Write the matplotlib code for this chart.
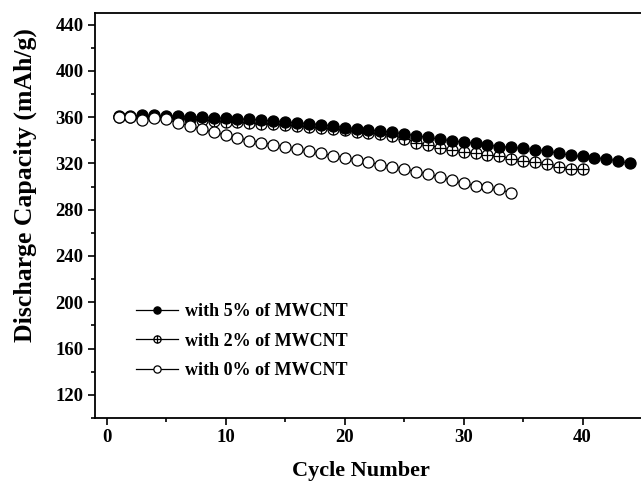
import numpy as np
import matplotlib
matplotlib.use("Agg")
import matplotlib.pyplot as plt
from matplotlib.path import Path

# Discharge capacity (mAh/g) per cycle
cycles_5 = np.arange(1, 45)
cap_5 = [361, 361, 361.5, 361.5, 361, 361, 360.5, 360, 359.5, 359,
         358.5, 358, 357.5, 356.5, 356, 355, 354.5, 353.5, 352.5, 351,
         350, 349, 348, 347, 345.5, 344, 342.5, 341, 339.5, 338.5,
         337.5, 336, 334.5, 334, 333, 332, 330.5, 329, 327, 326,
         325, 324, 322, 320]

cycles_2 = np.arange(1, 41)
cap_2 = [360.5, 360.5, 360, 360, 359.5, 359, 358, 357.5, 357, 356,
         355.5, 355, 354.5, 354, 353, 352.5, 351.5, 350.5, 349.5, 348.5,
         347.5, 346.5, 345.5, 344, 341.5, 338, 336, 333.5, 331.5, 330,
         328.6, 327.2, 326.3, 324, 322.3, 321.4, 319.5, 316.5, 315, 315]

cycles_0 = np.arange(1, 35)
cap_0 = [360.5, 360, 357.5, 359, 358, 355.2, 352.5, 349.5, 347, 344.5,
         342, 339.8, 338, 336.2, 334.2, 332.4, 330.5, 328.6, 326.8, 325,
         323.2, 321, 319, 317, 315.2, 312.8, 310.8, 308.2, 305.5, 302.7,
         300.7, 299.2, 297.5, 294.6]

labels = ["with 5% of MWCNT", "with 2% of MWCNT", "with 0% of MWCNT"]

plt.rcParams['font.family'] = ['Liberation Serif', 'DejaVu Serif']
plt.rcParams['font.weight'] = 'bold'

# circle with a plus inside
oplus = Path.make_compound_path(
    Path.unit_circle(),
    Path([[-1, 0], [1, 0], [0, -1], [0, 1]],
         [Path.MOVETO, Path.LINETO, Path.MOVETO, Path.LINETO]))

fig = plt.figure(figsize=(6.41, 4.84), dpi=100)
ax = fig.add_axes([94.7 / 641, 66 / 484, 47 * 11.9 / 641, 405 / 484])

l2, = ax.plot(cycles_2, cap_2, color='black', lw=0.9, marker=oplus,
              ms=8, mfc='white', mec='black', mew=0.9, zorder=2)
l5, = ax.plot(cycles_5, cap_5, color='black', lw=0.9, marker='o',
              ms=8, mfc='black', mec='black', mew=0.9, zorder=3)
l0, = ax.plot(cycles_0, cap_0, color='black', lw=0.9, marker='o',
              ms=8, mfc='white', mec='black', mew=0.9, zorder=4)

ax.set_xlim(-1, 46)
ax.set_ylim(100, 450)
ax.set_xticks([0, 10, 20, 30, 40])
ax.set_xticks([5, 15, 25, 35, 45], minor=True)
ax.set_yticks(np.arange(120, 441, 40))
ax.set_yticks(np.arange(100, 451, 20), minor=True)
ax.tick_params(which='both', direction='out', width=1.2, labelsize=13.5,
               top=False, right=False)
ax.tick_params(which='major', length=5, pad=3)
ax.tick_params(which='minor', length=3)
for s in ax.spines.values():
    s.set_linewidth(1.3)
ax.spines['right'].set_visible(False)

ax.set_xlabel("Cycle Number", fontsize=16, fontweight='bold')
ax.set_ylabel("Discharge Capacity (mAh/g)", fontsize=18.5, fontweight='bold')
ax.xaxis.set_label_coords(0.476, -0.106)
ax.yaxis.set_label_coords(-0.104, 0.574)

ax.legend([l5, l2, l0], labels, loc='upper left',
          bbox_to_anchor=(136 / 641, 1 - 303 / 484),
          bbox_transform=fig.transFigure, frameon=False, borderpad=0,
          borderaxespad=0, markerscale=0.65,
          handlelength=2.3, handletextpad=0.4, labelspacing=0.7,
          prop={'weight': 'bold', 'size': 13})

fig.savefig("out.png", dpi=100)
